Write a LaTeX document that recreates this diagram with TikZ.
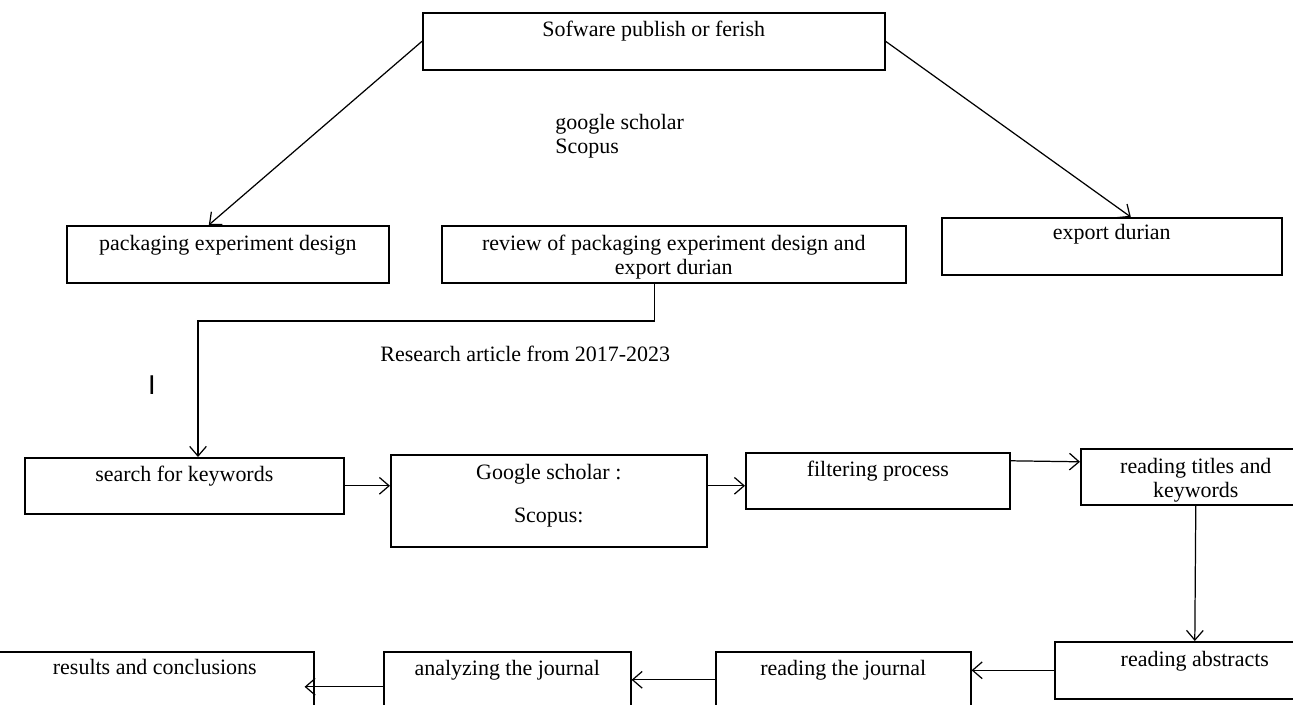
\documentclass[tikz,border=0pt]{standalone}
\usepackage{fontspec}
\setmainfont{Liberation Serif}
\newfontfamily\barfont{Liberation Sans}
\usetikzlibrary{arrows.meta}

\tikzset{
  box/.style={draw, line width=0.9pt, anchor=north west, inner sep=0pt},
  lbl/.style={anchor=north, align=center, inner sep=0pt},
  arr/.style={line width=0.7pt, -{Straight Barb[length=5.5pt,width=9.5pt]}}
}

\begin{document}
\begin{tikzpicture}[x=0.02cm, y=-0.02cm, font=\fontsize{12.5}{13.5}\selectfont]
\useasboundingbox (0,0) rectangle (1293,705);
\clip (0,0) rectangle (1293,705);

% Boxes: name/left/top/width/height/text offset/text
\foreach \n/\x/\y/\w/\h/\d/\t in {
    soft/422/12/462/57/9/{Sofware publish or ferish},
    pack/66/225/322/57/10/{packaging experiment design},
    rev/441/225/464/57/10/{review of packaging experiment design and\\export durian},
    exp/941/217/340/57/7/{export durian},
    search/24/457/319/56/9/{search for keywords},
    scholar/390/454/316/92/10/{Google scholar :\\[11pt]Scopus:},
    filter/745/452/264/56/9/{filtering process},
    titles/1080/448/230/56/10/{reading titles and\\keywords},
    abstr/1054/641/280/57/10/{reading abstracts},
    journ/715/651/255/56/9/{reading the journal},
    anal/383/651/247/56/9/{analyzing the journal},
    result/-5/651/318/56/8/{results and conclusions}} {
    \node[box, minimum width=\w*0.02cm, minimum height=\h*0.02cm] (\n) at (\x,\y) {};
    \node[lbl] (\n-t) at ([yshift=-\d*0.02cm]\n.north) {\t};
}

% Free texts
\node[anchor=north west, align=left, inner sep=0pt] (db) at (555,114) {google scholar\\Scopus};
\node[anchor=base west, inner sep=0pt] (years) at (380,361) {Research article from 2017-2023};
\node[inner sep=0pt, font={\barfont\fontsize{15.5}{16}\selectfont}] (mark) at (152,385) {I};

% Top branches
\draw[arr] (soft.west) -- ([xshift=-0.38cm]pack.north);
\draw[arr] (soft.east) -- ([xshift=0.38cm]exp.north);

% Down to the search row
\coordinate (bend) at (198,321);
\draw[arr] ([xshift=-0.38cm]rev.south) |- (bend) -- (bend |- search.north);

% Search row, left to right
\draw[arr] (search.east) -- (search.east -| scholar.west);
\draw[arr] (scholar.east |- search.east) -- (filter.west |- search.east);
\draw[arr] ([yshift=0.4cm]filter.east) -- ([yshift=0.3cm]titles.west);
\draw[arr] (titles.south) -- (abstr.north);

% Reading row, right to left
\draw[arr] (abstr.west) -- (abstr.west -| journ.east);
\draw[arr] (journ.west) -- (journ.west -| anal.east);
\draw[arr, shorten >=-0.2cm] ([yshift=-0.14cm]anal.west) -- ([yshift=-0.14cm]anal.west -| result.east);
\end{tikzpicture}
\end{document}
